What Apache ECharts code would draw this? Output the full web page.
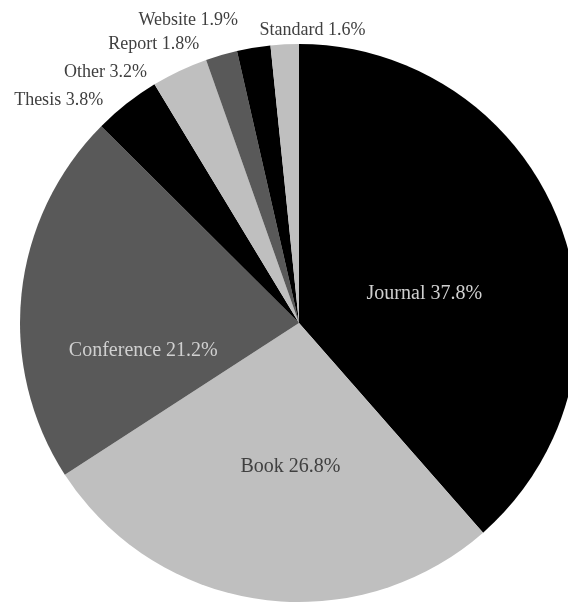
<!DOCTYPE html>
<html>
<head>
<meta charset="utf-8">
<script src="https://cdn.jsdelivr.net/npm/echarts@6/dist/echarts.min.js"></script>
<style>html,body{margin:0;padding:0;background:#fff;}#c{width:568px;height:603px;}</style>
</head>
<body>
<div id="c"></div>
<script>
const categories = ['Journal', 'Book', 'Conference', 'Thesis', 'Other', 'Report', 'Website', 'Standard'];
const shares = [37.8, 26.8, 21.2, 3.8, 3.2, 1.8, 1.9, 1.6];
const sliceColors = ['#000000', '#bfbfbf', '#595959', '#000000', '#bfbfbf', '#595959', '#000000', '#bfbfbf'];
const labelColors = ['#d0d0d0', '#404040', '#d0d0d0', '#404040', '#404040', '#404040', '#404040', '#404040'];
const insideCount = 3;
// label nudges (dx, dy) relative to the library's default label placement
const labelNudge = [[-8, 21], [11, 3], [-14, 43], [-16, 0], [-26, 5], [-16, -7], [-10, -24], [86, -10]];

const chart = echarts.init(document.getElementById('c'), null, {renderer: 'canvas'});
const data = categories.map((name, i) => ({
  name: name,
  value: shares[i],
  itemStyle: {color: sliceColors[i]},
  label: {
    position: i < insideCount ? 'inside' : 'outside',
    color: labelColors[i],
    fontSize: i < insideCount ? 20 : 18
  }
}));

chart.setOption({
  animation: false,
  series: [{
    type: 'pie',
    center: [299, 323],
    radius: 279,
    startAngle: 90,
    clockwise: true,
    avoidLabelOverlap: false,
    data: data,
    label: {
      show: true,
      fontFamily: 'Liberation Serif',
      formatter: p => p.name + ' ' + p.value.toFixed(1) + '%'
    },
    labelLine: {show: false, length: 4, length2: 0},
    labelLayout: p => ({
      dx: labelNudge[p.dataIndex][0],
      dy: labelNudge[p.dataIndex][1],
      hideOverlap: false
    }),
    itemStyle: {borderWidth: 0}
  }]
});
</script>
</body>
</html>
